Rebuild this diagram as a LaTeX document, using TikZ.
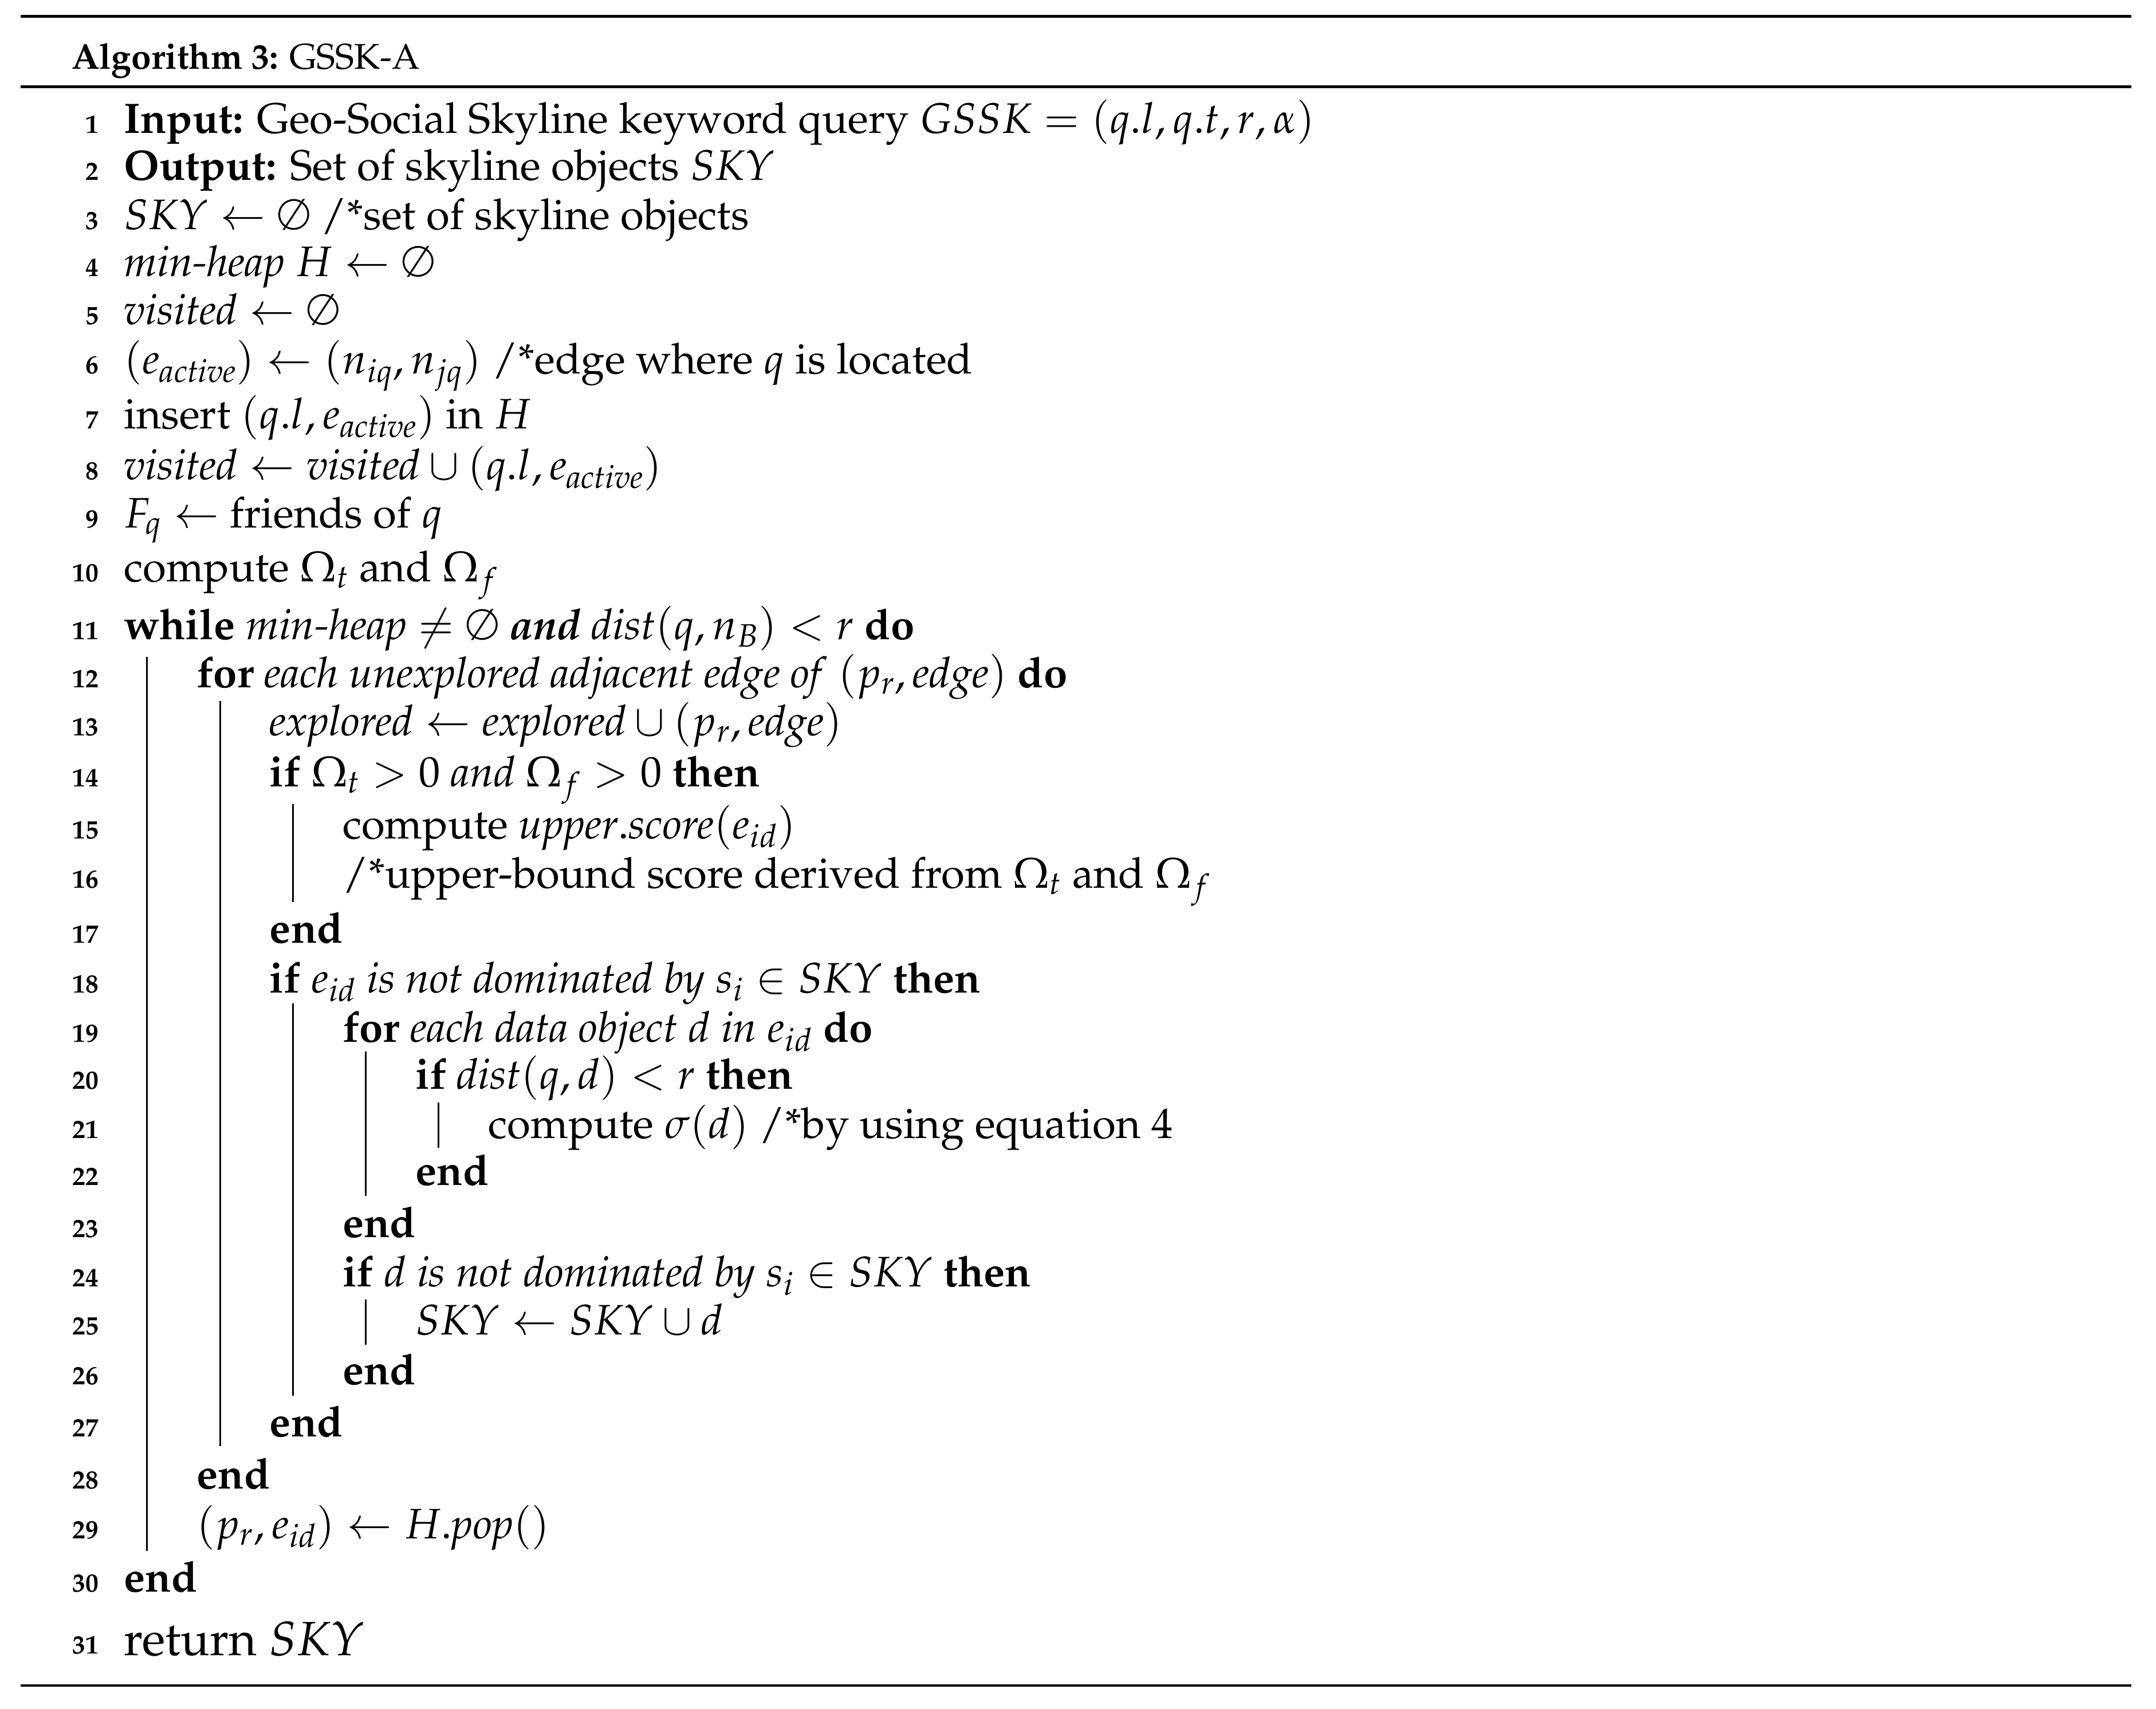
\documentclass[tikz,border=0pt]{standalone}
\usepackage[T1]{fontenc}
\usepackage{mathpazo}
\usepackage{amssymb}
\begin{document}
\begin{tikzpicture}[x=1pt,y=-1pt,
  txt/.style={anchor=base west,inner sep=0pt,font=\fontsize{31}{36}\selectfont},
  ttl/.style={anchor=base west,inner sep=0pt,font=\fontsize{26}{30}\selectfont},
  num/.style={anchor=base east,inner sep=0pt,font=\fontsize{19}{22}\selectfont},
  bar/.style={line width=1.3pt}]
\useasboundingbox (0,0) rectangle (1568,1243);
\draw[line width=2pt] (15,12) -- (1550,12);
\draw[line width=2.2pt] (15,63) -- (1550,63);
\draw[line width=2pt] (15,1226) -- (1550,1226);
\node[ttl] (title) at (52,50) {\textbf{Algorithm 3:} GSSK-A};
\foreach \n/\y in {1/87,2/121,3/157,4/191,5/226,6/262,7/302,8/339,9/374,10/413,11/455,12/490,13/525,14/562,15/600,16/636,17/676,18/712,19/748,20/782,21/818,22/852,23/890,24/926,25/961,26/997,27/1035,28/1073,29/1109,30/1148,31/1193}
  \node[num] (n\n) at (72,\y+10) {\textbf{\n}};
\node[txt] (l1) at (90,97) {\textbf{Input:} Geo-Social Skyline keyword query $GSSK=(q.l,q.t,r,\alpha)$};
\node[txt] (l2) at (90,131) {\textbf{Output:} Set of skyline objects $SKY$};
\node[txt] (l3) at (90,167) {$SKY\leftarrow\emptyset$ /*set of skyline objects};
\node[txt] (l4) at (90,201) {\textit{min-heap} $H\leftarrow\emptyset$};
\node[txt] (l5) at (90,236) {$\mathit{visited}\leftarrow\emptyset$};
\node[txt] (l6) at (90,272) {$(e_{\mathit{active}})\leftarrow(n_{iq},n_{jq})$ /*edge where $q$ is located};
\node[txt] (l7) at (90,312) {insert $(q.l,e_{\mathit{active}})$ in $H$};
\node[txt] (l8) at (90,349) {$\mathit{visited}\leftarrow\mathit{visited}\cup(q.l,e_{\mathit{active}})$};
\node[txt] (l9) at (90,384) {$F_q\leftarrow$ friends of $q$};
\node[txt] (l10) at (90,423) {compute $\Omega_t$ and $\Omega_f$};
\node[txt] (l11) at (90,465) {\textbf{while} \textit{min-heap} $\neq\emptyset$ \textbf{\textit{and}} $\mathit{dist}(q,n_B)<r$ \textbf{do}};
\node[txt] (l12) at (143,500) {\textbf{for} \textit{each unexplored adjacent edge of} $(p_r,\mathit{edge})$ \textbf{do}};
\node[txt] (l13) at (196,535) {$\mathit{explored}\leftarrow\mathit{explored}\cup(p_r,\mathit{edge})$};
\node[txt] (l14) at (196,572) {\textbf{if} $\Omega_t>0$ \textit{and} $\Omega_f>0$ \textbf{then}};
\node[txt] (l15) at (249,610) {compute $\mathit{upper.score}(e_{id})$};
\node[txt] (l16) at (249,646) {/*upper-bound score derived from $\Omega_t$ and $\Omega_f$};
\node[txt] (l17) at (196,686) {\textbf{end}};
\node[txt] (l18) at (196,722) {\textbf{if} $e_{id}$ \textit{is not dominated by} $s_i\in SKY$ \textbf{then}};
\node[txt] (l19) at (249,758) {\textbf{for} \textit{each data object} $d$ \textit{in} $e_{id}$ \textbf{do}};
\node[txt] (l20) at (302,792) {\textbf{if} $\mathit{dist}(q,d)<r$ \textbf{then}};
\node[txt] (l21) at (355,828) {compute $\sigma(d)$ /*by using equation 4};
\node[txt] (l22) at (302,862) {\textbf{end}};
\node[txt] (l23) at (249,900) {\textbf{end}};
\node[txt] (l24) at (249,936) {\textbf{if} $d$ \textit{is not dominated by} $s_i\in SKY$ \textbf{then}};
\node[txt] (l25) at (302,971) {$SKY\leftarrow SKY\cup d$};
\node[txt] (l26) at (249,1007) {\textbf{end}};
\node[txt] (l27) at (196,1045) {\textbf{end}};
\node[txt] (l28) at (143,1083) {\textbf{end}};
\node[txt] (l29) at (143,1119) {$(p_r,e_{id})\leftarrow H.\mathit{pop}()$};
\node[txt] (l30) at (90,1158) {\textbf{end}};
\node[txt,font=\fontsize{35}{40}\selectfont] (l31) at (90,1204) {return $SKY$};
\draw[bar] (107,478) -- (107,1128);
\draw[bar] (160,510) -- (160,1052);
\draw[bar] (213,585) -- (213,656);
\draw[bar] (213,730) -- (213,1015);
\draw[bar] (266,765) -- (266,870);
\draw[bar] (266,945) -- (266,978);
\draw[bar] (319,802) -- (319,835);
\end{tikzpicture}
\end{document}
